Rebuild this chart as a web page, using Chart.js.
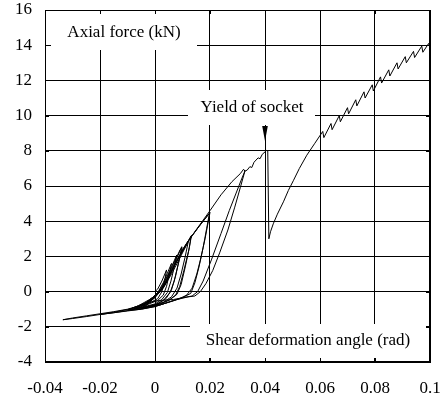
<!DOCTYPE html>
<html>
<head>
<meta charset="utf-8">
<script src="https://cdn.jsdelivr.net/npm/chart.js@4/dist/chart.umd.min.js"></script>
<style>
  html, body { margin: 0; padding: 0; background: #fff; }
  #wrap { width: 444px; height: 394px; }
</style>
</head>
<body>
<div id="wrap"><canvas id="hysteresisChart"></canvas></div>
<script>
// 刻度标签
const xTickLabels = ['-0.04', '-0.02', '0', '0.02', '0.04', '0.06', '0.08', '0.1'];
const yTickLabels = ['-4', '-2', '0', '2', '4', '6', '8', '10', '12', '14', '16'];

// 曲线数据 [剪切变形角 rad, 轴力 kN]，按加载顺序
const cycle1 = [[0, 0], [0.001, 0.15], [0.0025, 0.6], [0.0042, 1.23], [0.0035, 0.6], [0.0025, 0.0], [0.001, -0.4],
    [-0.002, -0.65], [-0.005, -0.85], [-0.003, -0.6], [-0.001, -0.35]];
const cycle2 = [[0.001, -0.05], [0.003, 0.5], [0.0045, 1.05], [0.006, 1.6], [0.0052, 1.0], [0.0042, 0.3], [0.003, -0.2],
    [0.001, -0.5], [-0.003, -0.75], [-0.007, -0.95], [-0.004, -0.7], [-0.001, -0.4]];
const cycle3 = [[0.0015, 0.0], [0.004, 0.75], [0.006, 1.4], [0.0079, 2.08], [0.007, 1.4], [0.0058, 0.6], [0.0045, -0.05],
    [0.0025, -0.45], [0, -0.7], [-0.005, -0.9], [-0.01, -1.05], [-0.006, -0.8], [-0.002, -0.45]];
const cycle4 = [[0.001, -0.15], [0.004, 0.55], [0.007, 1.55], [0.0097, 2.55], [0.0088, 1.8], [0.0075, 0.9], [0.006, 0.1],
    [0.004, -0.4], [0.001, -0.7], [-0.004, -0.9], [-0.002, -0.6], [0, -0.3]];
const cycle4b = [[0.0015, -0.05], [0.0035, 0.5], [0.0065, 1.5], [0.0092, 2.4], [0.0099, 2.5], [0.0085, 1.6],
    [0.007, 0.6], [0.0055, -0.05], [0.003, -0.5], [0, -0.75], [-0.006, -0.95], [-0.003, -0.65], [-0.001, -0.4]];
const cycle5 = [[0.003, 0.2], [0.006, 1.0], [0.009, 1.9], [0.0121, 2.84], [0.011, 2.0], [0.0095, 1.0], [0.008, 0.2],
    [0.006, -0.3], [0.003, -0.6], [-0.002, -0.85], [-0.008, -1.0], [-0.004, -0.7], [-0.001, -0.35]];
const cycle6 = [[0.002, 0.0], [0.005, 0.85], [0.008, 1.75], [0.011, 2.55], [0.0133, 3.2], [0.0122, 2.3], [0.0105, 1.2],
    [0.009, 0.3], [0.0075, -0.2], [0.005, -0.5], [0.001, -0.75], [-0.005, -0.95], [-0.003, -0.7], [0, -0.35]];
const cycle6b = [[0.0025, 0.15], [0.0055, 1.0], [0.0085, 1.9], [0.0115, 2.7], [0.0131, 3.15], [0.0125, 2.5],
    [0.011, 1.4], [0.0095, 0.4], [0.008, -0.15], [0.0055, -0.45], [0.002, -0.7], [-0.004, -0.9], [-0.002, -0.6],
    [0, -0.3]];
const cycle7 = [[0.003, 0.2], [0.0067, 1.4], [0.0105, 2.5], [0.0127, 3.0], [0.016, 3.7], [0.02, 4.5], [0.0182, 3.0],
    [0.0165, 1.8], [0.0152, 1.0], [0.0135, 0.2], [0.0115, -0.2], [0.009, -0.4], [0.005, -0.6], [0, -0.85],
    [-0.005, -1.0], [-0.01, -1.1], [-0.015, -1.2], [-0.02, -1.3], [-0.015, -1.17], [-0.01, -1.02],
    [-0.005, -0.8], [-0.002, -0.55]];
const cycle7b = [[0.0035, 0.35], [0.0075, 1.6], [0.0115, 2.75], [0.0155, 3.6], [0.0198, 4.45], [0.0188, 3.6],
    [0.0175, 2.5], [0.016, 1.4], [0.0145, 0.5], [0.013, -0.1], [0.0105, -0.3], [0.007, -0.5], [0.002, -0.75],
    [-0.004, -0.95], [-0.01, -1.05], [-0.006, -0.8], [-0.002, -0.55]];
const cycle8 = [[0.001, -0.05], [0.003, 0.25], [0.0067, 1.4], [0.0105, 2.5], [0.014, 3.3], [0.02, 4.6], [0.024, 5.5],
    [0.028, 6.25], [0.031, 6.7], [0.0322, 6.95], [0.0327, 6.85], [0.031, 5.9], [0.029, 4.8], [0.0265, 3.5],
    [0.0235, 2.2], [0.021, 1.2], [0.0185, 0.45], [0.0165, 0.0], [0.0145, -0.25], [0.012, -0.3], [0.008, -0.45],
    [0.004, -0.65], [0, -0.85], [-0.005, -1.0], [-0.01, -1.08], [-0.015, -1.2], [-0.02, -1.3], [-0.025, -1.42],
    [-0.03, -1.53], [-0.0335, -1.6]];
const reloadToYield = [[-0.03, -1.5], [-0.025, -1.38], [-0.02, -1.26], [-0.015, -1.14], [-0.01, -1.0], [-0.005, -0.78],
    [-0.002, -0.6], [0.002, -0.5], [0.0067, -0.45], [0.01, -0.35], [0.0135, -0.25], [0.0155, 0.0], [0.0175, 0.6],
    [0.0205, 1.8], [0.024, 3.3], [0.027, 4.6], [0.0295, 5.6], [0.0315, 6.4], [0.0327, 6.85], [0.0335, 6.9],
    [0.0345, 7.1], [0.0352, 7.05], [0.036, 7.35], [0.0375, 7.6], [0.0382, 7.55], [0.039, 7.8], [0.0406, 8.02]];
const postYield = [[0.041, 8.0], [0.0414, 3.0], [0.042, 3.4], [0.043, 3.85], [0.0445, 4.4], [0.0467, 5.1],
    [0.0485, 5.75], [0.0503, 6.3], [0.0525, 7.0], [0.0552, 7.75], [0.058, 8.4], [0.061, 9.1], [0.0614, 8.75],
    [0.064, 9.55], [0.0644, 9.2], [0.067, 10.0], [0.0674, 9.65], [0.070, 10.45], [0.0704, 10.1], [0.073, 10.9],
    [0.0734, 10.55], [0.076, 11.35], [0.0764, 11.0], [0.079, 11.75], [0.0794, 11.4], [0.082, 12.2], [0.0824, 11.85],
    [0.085, 12.6], [0.0854, 12.25], [0.088, 13.0], [0.0884, 12.65], [0.091, 13.35], [0.0914, 13.0], [0.094, 13.65],
    [0.0944, 13.3], [0.097, 13.95], [0.0974, 13.6], [0.0995, 14.1], [0.1, 13.9]];

const serif = '"Liberation Serif", "Times New Roman", serif';

// 文字标注（白底遮住网格线）
const notesPlugin = {
    id: 'notes',
    beforeDatasetsDraw(chart) {
        const { ctx, chartArea: a, scales } = chart;
        ctx.save();
        ctx.fillStyle = '#fff';
        ctx.fillRect(a.left + 6, a.top + 4, 146, 36);
        ctx.fillRect(a.left + 143, a.top + 80, 127, 35);
        ctx.fillRect(a.left + 145, a.top + 314, 236, 34);

        // 边框和内侧短刻度
        ctx.strokeStyle = '#000';
        ctx.lineWidth = 1;
        ctx.strokeRect(a.left + 0.5, a.top + 0.5, a.right - a.left - 1, a.bottom - a.top - 1);
        ctx.beginPath();
        scales.x.ticks.forEach(t => {
            const px = Math.round(scales.x.getPixelForValue(t.value)) + 0.5;
            ctx.moveTo(px, a.top); ctx.lineTo(px, a.top + 4);
            ctx.moveTo(px, a.bottom); ctx.lineTo(px, a.bottom - 4);
        });
        scales.y.ticks.forEach(t => {
            const py = Math.round(scales.y.getPixelForValue(t.value)) + 0.5;
            ctx.moveTo(a.left, py); ctx.lineTo(a.left + 4, py);
            ctx.moveTo(a.right, py); ctx.lineTo(a.right - 4, py);
        });
        ctx.stroke();

        ctx.fillStyle = '#000';
        ctx.font = '17px ' + serif;
        ctx.textAlign = 'center';
        ctx.textBaseline = 'middle';
        ctx.fillText('Axial force (kN)', a.left + 79, a.top + 23);
        ctx.fillText('Yield of socket', a.left + 207, a.top + 98);
        ctx.fillText('Shear deformation angle (rad)', a.left + 263, a.top + 331);

        // 屈服点箭头
        const ax = scales.x.getPixelForValue(0.04);
        ctx.beginPath();
        ctx.moveTo(ax - 2.8, a.top + 116);
        ctx.lineTo(ax + 2.8, a.top + 116);
        ctx.lineTo(ax, a.top + 131);
        ctx.closePath();
        ctx.fill();
        ctx.restore();
    }
};

function initChart() {
    const path = [].concat(cycle1, cycle2, cycle3, cycle4, cycle4b, cycle5, cycle6, cycle6b, cycle7, cycle7b,
        cycle8, reloadToYield, postYield);
    const ctx = document.getElementById('hysteresisChart').getContext('2d');
    new Chart(ctx, {
        type: 'scatter',
        data: {
            datasets: [{
                data: path.map(p => ({ x: p[0], y: p[1] })),
                showLine: true,
                borderColor: '#000',
                borderWidth: 1,
                pointRadius: 0,
                tension: 0
            }]
        },
        options: {
            responsive: true,
            maintainAspectRatio: false,
            animation: false,
            layout: { padding: { top: 10, right: 14, left: 0, bottom: 0 } },
            plugins: {
                legend: { display: false },
                tooltip: { enabled: false }
            },
            scales: {
                x: {
                    type: 'linear',
                    min: -0.04,
                    max: 0.1,
                    afterFit: s => { s.height = 32; s.paddingLeft = 0; s.paddingRight = 0; },
                    grid: { color: '#000', lineWidth: 1, drawTicks: false },
                    border: { color: '#000', width: 1 },
                    ticks: {
                        stepSize: 0.02,
                        padding: 16,
                        color: '#000',
                        font: { family: serif, size: 17 },
                        maxRotation: 0,
                        callback: (v, i) => xTickLabels[i]
                    }
                },
                y: {
                    type: 'linear',
                    min: -4,
                    max: 16,
                    afterFit: s => { s.width = 45; s.paddingTop = 0; s.paddingBottom = 0; },
                    grid: { color: '#000', lineWidth: 1, drawTicks: false },
                    border: { color: '#000', width: 1 },
                    ticks: {
                        stepSize: 2,
                        padding: 13,
                        color: '#000',
                        font: { family: serif, size: 17 },
                        callback: (v, i) => yTickLabels[i]
                    }
                }
            }
        },
        plugins: [notesPlugin]
    });
}

document.addEventListener('DOMContentLoaded', initChart);
</script>
</body>
</html>
